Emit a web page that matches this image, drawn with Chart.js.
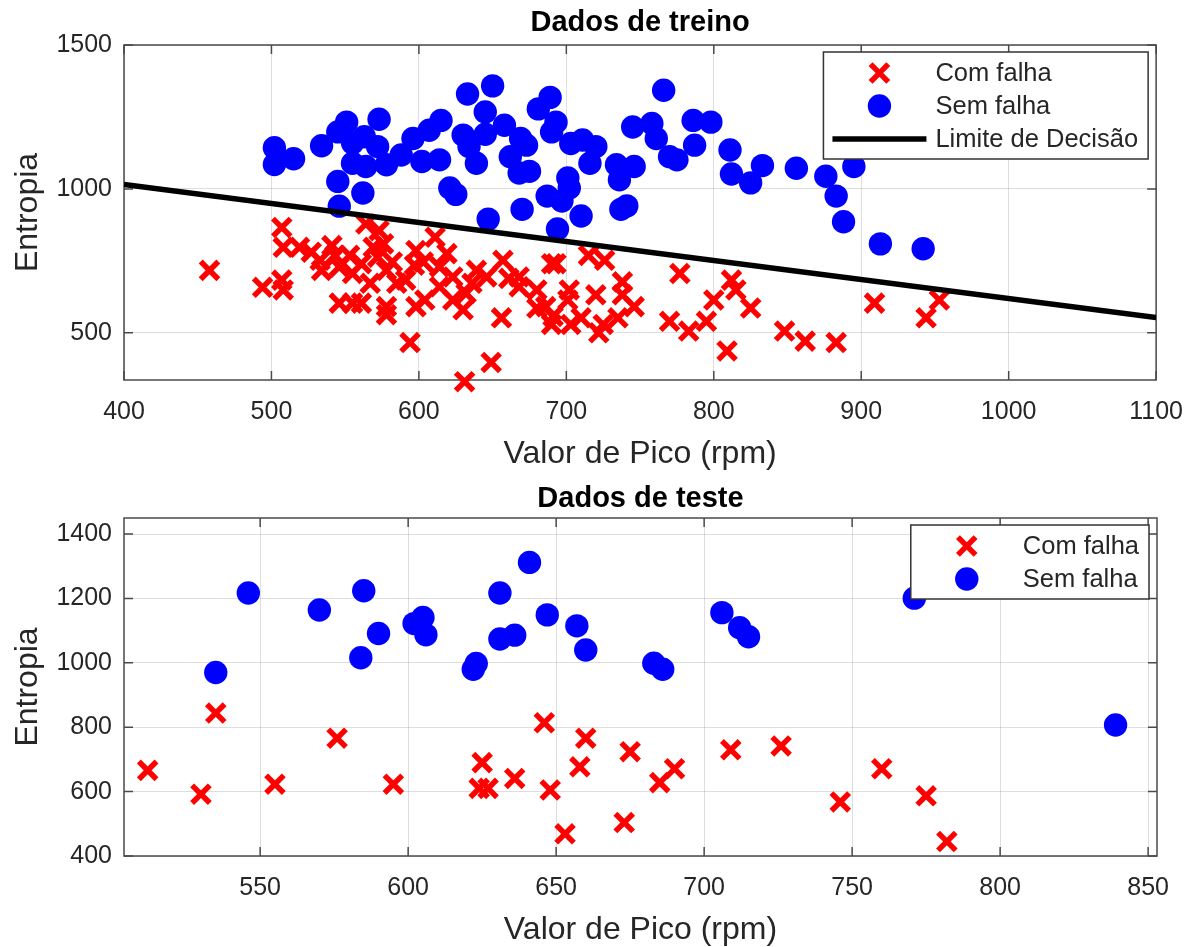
<!DOCTYPE html>
<html>
<head>
<meta charset="utf-8">
<script src="https://cdn.jsdelivr.net/npm/chart.js@4.4.0/dist/chart.umd.min.js"></script>
<style>
  body { margin: 0; background: #fff; width: 1200px; height: 947px; overflow: hidden; position: relative; }
  canvas { position: absolute; left: 0; }
  #c1 { top: 0; }
  #c2 { top: 470px; }
</style>
</head>
<body>
<canvas id="c1" width="1200" height="470"></canvas>
<canvas id="c2" width="1200" height="477"></canvas>
<script>
// --- Dados de treino ---
const trainFaultX = [458, 494, 507, 508, 507, 508, 519, 527, 533, 541, 543, 534, 546, 553, 555, 561, 546, 555, 561, 567,
  564, 573, 569, 576, 572, 582, 578, 578, 578, 585, 591, 594, 598, 597, 598,
  611, 603, 619, 614, 623, 604, 614, 623, 630, 632, 639, 646, 636, 657, 661, 668, 656, 668, 680, 680,
  690, 693, 686, 691, 690, 702, 701, 703, 710, 715, 726, 720, 722, 725, 738, 738, 746, 735, 649, 631,
  777, 770, 783, 795, 800, 812, 815, 825, 809, 848, 862, 883, 909, 944, 953];
const trainFaultY = [717, 658, 866, 797, 683, 649, 797, 780, 752, 803, 769, 717, 729, 769, 706, 740, 603, 603, 603, 672,
  878, 855, 797, 809, 763, 746, 717, 591, 563, 672, 683, 466, 786, 735, 591,
  832, 746, 775, 729, 694, 614, 660, 614, 580, 637, 717, 694, 672, 752, 689, 694, 552, 660, 649, 586,
  740, 740, 591, 557, 529, 649, 614, 529, 552, 769, 752, 632, 500, 529, 677, 632, 591, 552, 397, 330,
  706, 540, 506, 540, 614, 683, 649, 586, 437, 506, 471, 466, 603, 552, 614];

const trainOkX = [502, 502, 515, 534, 551, 545, 573, 563, 572, 555, 545, 562, 546, 564, 578, 588, 596, 607, 615, 602,
  614, 630, 633, 650, 645, 639, 621, 625, 647, 634, 645, 658, 689, 681, 693, 690, 669, 662, 673, 668,
  675, 703, 711, 720, 716, 701, 702, 687, 697, 734, 746, 736, 737, 741, 710, 694, 670, 745, 758, 761,
  770, 775, 766, 786, 798, 787, 811, 812, 825, 833, 856, 876, 895, 883, 888, 913, 942, 555];
const trainOkY = [1143, 1085, 1105, 1150, 1232, 1198, 1242, 1181, 1147, 1089, 1026, 986, 940, 1078, 1084, 1118, 1175, 1204, 1238, 1095,
  1101, 1187, 1330, 1358, 1267, 1089, 1003, 981, 895, 1147, 1190, 1221, 1318, 1278, 1232, 1198, 1175, 1112, 1152, 1055,
  1061, 1158, 1170, 1147, 1089, 1038, 1003, 975, 958, 1084, 1078, 1032, 929, 941, 906, 861, 929, 1215, 1227, 1175,
  1112, 1101, 1343, 1238, 1232, 1152, 1135, 1052, 1021, 1081, 1072, 1044, 1078, 975, 886, 809, 792, 1160];

const boundaryX = [400, 1100];
const boundaryY = [1015, 553];

const trainXTicks = [400, 500, 600, 700, 800, 900, 1000, 1100];
const trainYTicks = [500, 1000, 1500];

// --- Dados de teste ---
const testFaultX = [512, 530, 535, 555, 576, 595, 625, 624, 627, 636, 646, 648, 653, 660, 658, 675, 673, 685, 690, 709,
  726, 746, 760, 775, 782];
const testFaultY = [666, 592, 844, 623, 766, 623, 690, 610, 610, 641, 814, 605, 469, 766, 677, 724, 504, 628, 671, 730,
  742, 568, 671, 587, 445];

const testOkX = [546, 535, 570, 585, 590, 584, 602, 605, 606, 631, 641, 623, 622, 631, 636, 647, 657, 660, 683, 686,
  706, 712, 715, 771, 839];
const testOkY = [1217, 970, 1164, 1224, 1091, 1016, 1122, 1141, 1087, 1217, 1312, 998, 980, 1074, 1086, 1149, 1115, 1040, 999, 980,
  1156, 1109, 1081, 1201, 807];

const testXTicks = [550, 600, 650, 700, 750, 800, 850];
const testYTicks = [400, 600, 800, 1000, 1200, 1400];

const FONT = "'Liberation Sans', Arial, Helvetica, sans-serif";
const TEXT = '#262626';

function pts(xs, ys) {
  return xs.map((x, i) => ({ x: x, y: ys[i] }));
}

// box around the axes + small inward ticks, like MATLAB
const framePlugin = {
  id: 'frame',
  beforeDatasetsDraw(chart) {
    const { ctx, chartArea: a, scales } = chart;
    ctx.save();
    ctx.strokeStyle = '#4a4a4a';
    ctx.lineWidth = 1.5;
    ctx.beginPath();
    scales.x.ticks.forEach(t => {
      const px = scales.x.getPixelForValue(t.value);
      ctx.moveTo(px, a.bottom); ctx.lineTo(px, a.bottom - 9);
      ctx.moveTo(px, a.top); ctx.lineTo(px, a.top + 9);
    });
    scales.y.ticks.forEach(t => {
      const py = scales.y.getPixelForValue(t.value);
      ctx.moveTo(a.left, py); ctx.lineTo(a.left + 9, py);
      ctx.moveTo(a.right, py); ctx.lineTo(a.right - 9, py);
    });
    ctx.stroke();
    ctx.strokeRect(a.left, a.top, a.right - a.left, a.bottom - a.top);
    ctx.restore();
  }
};

// legend in a box at the top right of the plot
const boxLegend = {
  id: 'boxLegend',
  afterDraw(chart) {
    const { ctx, chartArea: a } = chart;
    const sets = chart.data.datasets;
    ctx.save();
    ctx.font = '25.5px ' + FONT;
    let w = 0;
    sets.forEach(d => { w = Math.max(w, ctx.measureText(d.label).width); });
    const boxW = 112 + w + 10;
    const boxH = sets.length * 33 + 8;
    const left = a.right - 8 - boxW;
    const top = a.top + 7;
    ctx.fillStyle = '#fff';
    ctx.fillRect(left, top, boxW, boxH);
    ctx.strokeStyle = '#333';
    ctx.lineWidth = 1.5;
    ctx.strokeRect(left, top, boxW, boxH);
    sets.forEach((d, i) => {
      const cy = top + 21 + i * 33;
      const mx = left + 56;
      if (d.type === 'line') {
        ctx.strokeStyle = d.borderColor;
        ctx.lineWidth = d.borderWidth;
        ctx.beginPath();
        ctx.moveTo(left + 9, cy); ctx.lineTo(left + 103, cy);
        ctx.stroke();
      } else if (d.pointStyle === 'crossRot') {
        const r = d.pointRadius * 0.707;
        ctx.strokeStyle = d.borderColor;
        ctx.lineWidth = d.borderWidth;
        ctx.beginPath();
        ctx.moveTo(mx - r, cy - r); ctx.lineTo(mx + r, cy + r);
        ctx.moveTo(mx + r, cy - r); ctx.lineTo(mx - r, cy + r);
        ctx.stroke();
      } else {
        ctx.fillStyle = d.backgroundColor;
        ctx.beginPath();
        ctx.arc(mx, cy, d.pointRadius, 0, Math.PI * 2);
        ctx.fill();
      }
      ctx.fillStyle = TEXT;
      ctx.textBaseline = 'middle';
      ctx.textAlign = 'left';
      ctx.fillText(d.label, left + 112, cy + 1);
    });
    ctx.restore();
  }
};

function faultSet(data) {
  return {
    label: 'Com falha', data: data, pointStyle: 'crossRot', pointRadius: 12.5,
    borderColor: '#ff0000', backgroundColor: '#ff0000', borderWidth: 5.5,
    pointHoverRadius: 12.5, clip: false, order: 2
  };
}
function okSet(data) {
  return {
    label: 'Sem falha', data: data, pointStyle: 'circle', pointRadius: 11.7,
    borderColor: '#0000ff', backgroundColor: '#0000ff', borderWidth: 0,
    pointHoverRadius: 11.7, clip: false, order: 1
  };
}

function axes(xr, yr, xTicks, yTicks, xAxisH, xTitlePad) {
  return {
    x: {
      type: 'linear', min: xr[0], max: xr[1],
      afterBuildTicks: s => { s.ticks = xTicks.map(v => ({ value: v })); },
      afterFit: s => { s.height = xAxisH; },
      grid: { color: 'rgba(0,0,0,0.13)', drawTicks: false },
      border: { display: false },
      ticks: { color: TEXT, padding: 17, font: { family: FONT, size: 25 }, maxRotation: 0,
        callback: v => String(v) },
      title: { display: true, text: 'Valor de Pico (rpm)', color: TEXT,
        font: { family: FONT, size: 32, lineHeight: 1 },
        padding: { top: 0, bottom: xTitlePad } }
    },
    y: {
      type: 'linear', min: yr[0], max: yr[1],
      afterBuildTicks: s => { s.ticks = yTicks.map(v => ({ value: v })); },
      afterFit: s => { s.width = 124; },
      grid: { color: 'rgba(0,0,0,0.13)', drawTicks: false },
      border: { display: false },
      ticks: { color: TEXT, padding: 12, font: { family: FONT, size: 25 },
        callback: v => String(v) },
      title: { display: true, text: 'Entropia', color: TEXT,
        font: { family: FONT, size: 32, lineHeight: 1 },
        padding: { top: 12, bottom: 0 } }
    }
  };
}

function titleOpts(text, pt, pb) {
  return {
    display: true, text: text, fullSize: false, color: '#000',
    font: { family: FONT, size: 29, weight: 'bold' },
    padding: { top: pt, bottom: pb }
  };
}

new Chart(document.getElementById('c1'), {
  type: 'scatter',
  data: {
    datasets: [
      faultSet(pts(trainFaultX, trainFaultY)),
      okSet(pts(trainOkX, trainOkY)),
      {
        type: 'line', label: 'Limite de Decisão', data: pts(boundaryX, boundaryY),
        borderColor: '#000', borderWidth: 5.5, pointRadius: 0, showLine: true, order: 0
      }
    ]
  },
  options: {
    responsive: false, animation: false,
    layout: { padding: { left: 0, right: 43, top: 0, bottom: 0 } },
    scales: axes([400, 1100], [336, 1500], trainXTicks, trainYTicks, 90, 0),
    plugins: {
      legend: { display: false }, tooltip: { enabled: false },
      title: titleOpts('Dados de treino', 6, 4.2)
    }
  },
  plugins: [framePlugin, boxLegend]
});

new Chart(document.getElementById('c2'), {
  type: 'scatter',
  data: {
    datasets: [
      faultSet(pts(testFaultX, testFaultY)),
      okSet(pts(testOkX, testOkY))
    ]
  },
  options: {
    responsive: false, animation: false,
    layout: { padding: { left: 0, right: 43, top: 0, bottom: 0 } },
    scales: axes([504, 853], [400, 1450], testXTicks, testYTicks, 91, 0.5),
    plugins: {
      legend: { display: false }, tooltip: { enabled: false },
      title: titleOpts('Dados de teste', 11.6, 1.6)
    }
  },
  plugins: [framePlugin, boxLegend]
});
</script>
</body>
</html>
